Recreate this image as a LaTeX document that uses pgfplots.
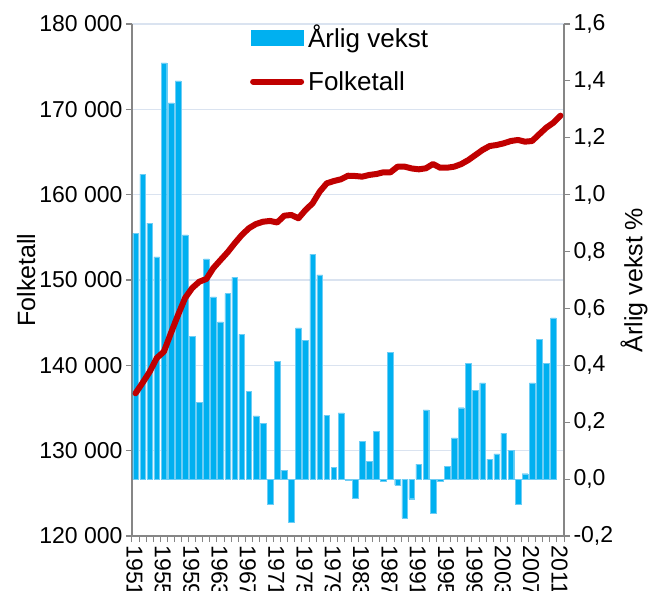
\documentclass[border=0pt]{standalone}
\usepackage{fontspec}
\setmainfont{Liberation Sans}
\usepackage{pgfplots}
\pgfplotsset{compat=1.18}

\definecolor{barblue}{RGB}{0,176,240}
\definecolor{baredge}{RGB}{110,205,245}
\definecolor{linered}{RGB}{192,0,0}
\definecolor{axisgray}{RGB}{134,134,134}
\definecolor{gridcol}{RGB}{218,227,240}

% growth per year (%), index 0 = 1951
\pgfplotstableread{
i v
0 0.864
1 1.072
2 0.900
3 0.781
4 1.463
5 1.323
6 1.400
7 0.859
8 0.502
9 0.270
10 0.774
11 0.641
12 0.553
13 0.652
14 0.710
15 0.509
16 0.309
17 0.222
18 0.196
19 -0.088
20 0.415
21 0.030
22 -0.152
23 0.532
24 0.489
25 0.791
26 0.718
27 0.224
28 0.042
29 0.233
30 -0.004
31 -0.066
32 0.133
33 0.063
34 0.169
35 -0.007
36 0.445
37 -0.021
38 -0.137
39 -0.069
40 0.053
41 0.243
42 -0.121
43 -0.007
44 0.045
45 0.145
46 0.251
47 0.407
48 0.313
49 0.338
50 0.070
51 0.089
52 0.162
53 0.101
54 -0.089
55 0.019
56 0.338
57 0.491
58 0.408
59 0.567
}\vekst

% population, index 0 = 1951
\pgfplotstableread{
i p
0 136720
1 137960
2 139250
3 140860
4 141600
5 143790
6 145900
7 147890
8 149060
9 149800
10 150120
11 151410
12 152340
13 153250
14 154300
15 155270
16 156060
17 156560
18 156830
19 156920
20 156740
21 157540
22 157620
23 157230
24 158200
25 158990
26 160350
27 161330
28 161600
29 161800
30 162220
31 162190
32 162110
33 162310
34 162420
35 162620
36 162620
37 163280
38 163280
39 163070
40 162970
41 163090
42 163590
43 163160
44 163160
45 163280
46 163590
47 164060
48 164650
49 165240
50 165700
51 165820
52 166020
53 166290
54 166410
55 166210
56 166290
57 167080
58 167850
59 168430
60 169260
}\folk

\pgfplotsset{
  base/.style={
    scale only axis, width=432pt, height=512pt,
    at={(0,0)}, anchor=south west,
    xmin=-0.5, xmax=60.5,
    axis line style={axisgray, line width=1.3pt},
    tick style={axisgray, line width=1.1pt},
    tick align=outside,
    major tick length=6pt,
    tick label style={font=\fontsize{23}{24}\selectfont},
    label style={font=\fontsize{25}{26}\selectfont},
  }
}

\begin{document}
\begin{tikzpicture}
% left axis, grid and years
\begin{axis}[base,
  axis x line*=bottom, axis y line*=left,
  ymin=120000, ymax=180000,
  ytick={120000,130000,140000,150000,160000,170000,180000},
  scaled y ticks=false,
  yticklabel style={/pgf/number format/.cd, fixed, precision=0, assume math mode=true, 1000 sep={\ }},
  ymajorgrids, grid style={gridcol, line width=1.2pt},
  xtick={0,4,...,60},
  xticklabels={1951,1955,1959,1963,1967,1971,1975,1979,1983,1987,1991,1995,1999,2003,2007,2011},
  major x tick style={draw=none},
  minor xtick={-0.5,0.5,...,60.5},
  minor x tick style={axisgray, line width=1pt},
  minor tick length=6pt,
  xticklabel style={rotate=-90, anchor=west, yshift=-1pt},
  ylabel={Folketall},
  ylabel style={at={(axis description cs:-0.245,0.5)}, anchor=center},
]
\addplot[draw=none] coordinates {(0,150000)};
\end{axis}

% right axis, bars
\begin{axis}[base,
  hide x axis, axis y line*=right,
  ymin=-0.2, ymax=1.6,
  ytick={-0.2,0,0.2,0.4,0.6,0.8,1.0,1.2,1.4,1.6},
  yticklabel style={/pgf/number format/.cd, fixed, fixed zerofill, precision=1, use comma, assume math mode=true},
  ylabel={Årlig vekst \%},
  ylabel style={at={(axis description cs:1.162,0.5)}, anchor=center},
]
\addplot[ybar, bar width=0.8, fill=barblue, draw=baredge, line width=0.4pt] table[x=i, y=v] {\vekst};
\end{axis}

% population line and legend
\begin{axis}[base,
  hide axis,
  ymin=120000, ymax=180000,
  legend style={draw=none, fill=none, at={(0.266,1.004)}, anchor=north west,
    font=\fontsize{26}{27}\selectfont, row sep=20pt, column sep=2pt,
    nodes={inner xsep=2pt, inner ysep=1pt}},
  legend cell align=left,
]
\addlegendimage{legend image code/.code={\fill[barblue] (0pt,-7.5pt) rectangle (52pt,7.5pt);}}
\addlegendentry{Årlig vekst}
\addplot[linered, line width=6pt, line join=round, line cap=round,
  legend image code/.code={\draw[linered, line width=6pt, line cap=round] (2pt,0pt) -- (50pt,0pt);}]
  table[x=i, y=p] {\folk};
\addlegendentry{Folketall}
\end{axis}

\pgfresetboundingbox
\useasboundingbox (-132pt,-54pt) rectangle (521pt,536pt);
\end{tikzpicture}
\end{document}
